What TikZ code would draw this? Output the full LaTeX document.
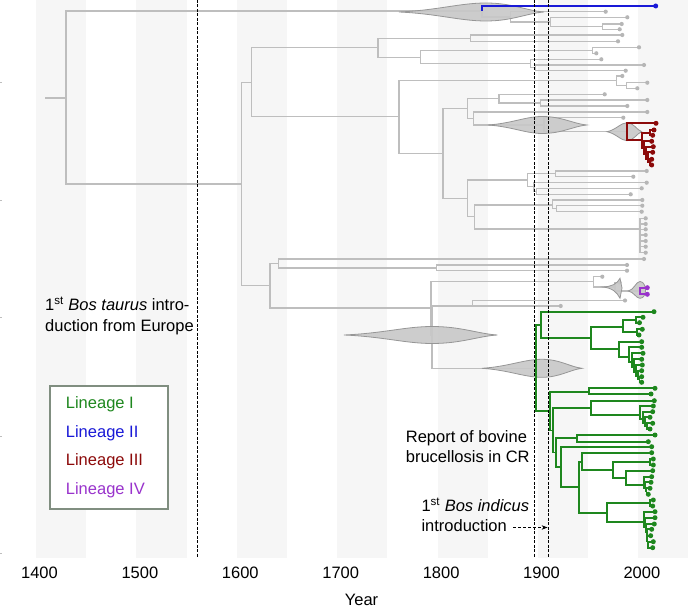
\documentclass[tikz,border=0pt]{standalone}
\usepackage{fontspec}
\setmainfont{Liberation Sans}
\usetikzlibrary{arrows.meta}
\definecolor{treegray}{RGB}{190,190,190}
\definecolor{dotgray}{RGB}{182,182,182}
\definecolor{bandgray}{RGB}{246,246,246}
\definecolor{vfillc}{RGB}{200,200,200}
\definecolor{vlinec}{RGB}{150,150,150}
\definecolor{linI}{RGB}{30,135,30}
\definecolor{linII}{RGB}{25,25,215}
\definecolor{linIII}{RGB}{140,10,10}
\definecolor{linIV}{RGB}{153,51,204}
\definecolor{legbox}{RGB}{128,142,128}
\newcommand{\drawviolin}[5]{%
  \path[violin] (#1,#4)
   .. controls ({#1+0.45*(#2-#1)},{#4-0.2*#5}) and ({#2-0.3*(#2-#1)},{#4-#5}) .. (#2,{#4-#5})
   .. controls ({#2+0.45*(#3-#2)},{#4-#5}) and ({#3-0.3*(#3-#2)},{#4-0.15*#5}) .. (#3,#4)
   .. controls ({#3-0.3*(#3-#2)},{#4+0.15*#5}) and ({#2+0.45*(#3-#2)},{#4+#5}) .. (#2,{#4+#5})
   .. controls ({#2-0.3*(#2-#1)},{#4+#5}) and ({#1+0.45*(#2-#1)},{#4+0.2*#5}) .. (#1,#4) -- cycle;}
\begin{document}
\begin{tikzpicture}[x=1pt,y=-1pt,
  gline/.style={treegray,line width=1.3pt},
  gdot/.style={fill=dotgray},
  cline/.style={line width=1.8pt},
  violin/.style={fill=vfillc,fill opacity=0.9,draw=vlinec,line width=0.8pt},
  refline/.style={black,line width=0.9pt,dash pattern=on 3pt off 1.5pt},
  txt/.style={inner sep=0pt,font=\fontsize{16.5}{20}\selectfont},
  legtxt/.style={txt,anchor=base west}]
\useasboundingbox (0,0) rectangle (688,609);
% background bands
\foreach \k in {0,...,6}
  \fill[bandgray] ({36+100.4*\k},0) rectangle ({86.2+100.4*\k},558);
% tiny axis ticks
\foreach \y in {82.7,200,317.7,436,553.3}
  \draw[treegray,line width=0.8pt] (0,\y) -- (2,\y);
% ---------- gray tree ----------
\draw[gline] (45,98) -- (66,98);
\foreach \a/\b/\c/\d in {
 66/98/482/11, 66/98/241.7/184,
 482/11/510.7/17,
 510.7/17/605.7/11.7, 510.7/17/550.7/22,
 550.7/22/627.3/17.3, 550.7/22/602.3/26.7,
 602.3/26.7/621.7/24, 602.3/26.7/619.7/29.3,
 241.7/184/251.7/82.7, 241.7/184/270/285.7,
 251.7/82.7/378/47.7, 251.7/82.7/399/116.7,
 378/47.7/470.7/38.7, 378/47.7/420.7/57.3,
 470.7/38.7/622.3/35, 470.7/38.7/618/41.3,
 420.7/57.3/592.3/50.7, 420.7/57.3/530.7/63.5,
 592.3/50.7/639/47.3, 592.3/50.7/596.3/53.3,
 530.7/63.5/601.3/59.3, 530.7/63.5/535.7/67.8,
 535.7/67.8/644/65, 535.7/67.8/625.7/70.7,
 399/116.7/616.7/80.7, 399/116.7/443/153.3,
 616.7/80.7/622.3/76, 616.7/80.7/626.7/85.5,
 626.7/85.5/647.3/82.7, 626.7/85.5/637.3/88.3,
 443/153.3/467.3/108.3, 443/153.3/467.3/198.3,
 467.3/108.3/499/98.3, 467.3/108.3/473.3/118.3,
 499/98.3/604.7/94.3, 499/98.3/540.7/103,
 540.7/103/647.3/100, 540.7/103/627.3/106,
 473.3/118.3/647.3/112, 473.3/118.3/544/125,
 544/125/623.3/117.7, 544/125/627.3/131.7,
 467.3/198.3/527.3/180, 467.3/198.3/474.7/216.7,
 527.3/180/555.7/173.3, 527.3/180/534/186.7,
 555.7/173.3/646.7/171, 555.7/173.3/633.3/176.7,
 534/186.7/646.7/182.7, 534/186.7/536.7/191.2,
 536.7/191.2/641.7/188.3, 536.7/191.2/630.7/194.3,
 474.7/216.7/552.3/205, 474.7/216.7/640/229,
 552.3/205/642.3/200, 552.3/205/556.7/208.7,
 556.7/208.7/642.3/205.7, 556.7/208.7/641.7/211.7,
 640/229/645.7/218.3, 640/229/645.7/224, 640/229/645.7/229.3,
 640/229/645.7/235, 640/229/645.7/241, 640/229/645.7/246.7, 640/229/645.7/252.7,
 270/285.7/278.7/263.3, 270/285.7/431/308,
 278.7/263.3/644/259, 278.7/263.3/436.7/267.9,
 436.7/267.9/627/265, 436.7/267.9/627/270.7,
 431/308/593.3/281.7, 431/308/432/335,
 593.3/281.7/602.3/276.7, 593.3/281.7/615/287,
 615/287/619.5/282.5, 615/287/640/291,
 432/335/472.3/306, 432/335/535.7/368.3,
 472.3/306/625/300.5, 472.3/306/560.7/306}
  \draw[gline] (\a,\b) |- (\c,\d);
\foreach \x/\y in {605.7/11.7, 627.3/17.3, 621.7/24, 619.7/29.3,
 622.3/35, 618/41.3, 639/47.3, 596.3/53.3, 601.3/59.3, 644/65, 625.7/70.7,
 622.3/76, 647.3/82.7, 637.3/88.3, 604.7/94.3, 647.3/100, 627.3/106,
 647.3/112, 623.3/117.7, 646.7/171, 633.3/176.7, 646.7/182.7, 641.7/188.3,
 630.7/194.3, 642.3/200, 642.3/205.7, 641.7/211.7,
 645.7/218.3, 645.7/224, 645.7/229.3, 645.7/235, 645.7/241, 645.7/246.7, 645.7/252.7,
 644/259, 627/265, 627/270.7, 602.3/276.7, 619.5/282.5, 625/300.5, 560.7/306}
  \fill[gdot] (\x,\y) circle[radius=2.1pt];
% ---------- violins ----------
\drawviolin{399}{486}{544}{12}{9}
\drawviolin{488}{542}{586.7}{125}{8.5}
\drawviolin{607}{627}{641.7}{131.7}{9}
\drawviolin{344}{432}{497.3}{335}{8.5}
\drawviolin{482}{542}{582}{368.3}{9}
\path[violin] (603,287) .. controls (612,286.5) and (617,284) .. (620,278.3)
  -- (622,288) -- (620,298.3) .. controls (617,292) and (612,288) .. (603,287) -- cycle;
\path[violin] (628.3,291) .. controls (634,290) and (636,281.5) .. (640,281.5)
  .. controls (644,281.5) and (645.5,287) .. (645.5,290)
  .. controls (645.5,294) and (644,298.3) .. (640,298.3)
  .. controls (636,298.3) and (634,292) .. (628.3,291) -- cycle;
% ---------- Lineage II (blue) ----------
\draw[cline,linII] (482,11) |- (655.7,6);
\fill[linII] (655.7,6) circle[radius=2.5pt];
% ---------- Lineage III (red) ----------
\foreach \a/\b/\c/\d in {
 627.3/131.7/656/123.3, 627.3/131.7/641.7/140,
 641.7/140/650/132.7, 641.7/140/644/148,
 650/132.7/654/130, 650/132.7/652.7/135.3,
 644/148/651.7/141.3, 644/148/646.3/154,
 646.3/154/653.3/146.7, 646.3/154/648.3/159,
 648.3/159/652.7/152.3, 648.3/159/650/162,
 650/162/651.7/159.3, 650/162/651.7/165}
  \draw[cline,linIII] (\a,\b) |- (\c,\d);
\foreach \x/\y in {656/123.3, 654/130, 652.7/135.3, 651.7/141.3, 653.3/146.7,
 652.7/152.3, 651.7/159.3, 651.7/165}
  \fill[linIII] (\x,\y) circle[radius=2.5pt];
% ---------- Lineage IV (purple) ----------
\foreach \a/\b/\c/\d in {640/291/647.3/287.7, 640/291/647.3/294.3}
  \draw[cline,linIV] (\a,\b) |- (\c,\d);
\foreach \x/\y in {647.3/287.7, 647.3/294.3}
  \fill[linIV] (\x,\y) circle[radius=2.5pt];
% ---------- Lineage I (green) ----------
\foreach \a/\b/\c/\d in {
 535.7/368.3/540.7/325, 535.7/368.3/550/411,
 540.7/325/654/311.7, 540.7/325/590.7/338.3,
 590.7/338.3/623.3/327.3, 590.7/338.3/619/349.3,
 623.3/327.3/636/320, 623.3/327.3/637/332.3,
 636/320/643/317.3, 636/320/639.5/322.7,
 637/332.3/642.3/329.3, 637/332.3/639/335,
 619/349.3/641.7/341.7, 619/349.3/629/356.7,
 629/356.7/641.7/347.3, 629/356.7/632/362,
 632/362/643/353.3, 632/362/634/367,
 634/367/641.7/359.3, 634/367/636/372,
 636/372/642.3/365, 636/372/638/376,
 638/376/641.7/370.7, 638/376/639.5/379.5,
 639.5/379.5/641.7/376.7, 639.5/379.5/641.7/382.3,
 550/411/589.3/391.7, 550/411/553.3/430.4,
 589.3/391.7/655/388.3, 589.3/391.7/651/394,
 553.3/430.4/591/408.3, 553.3/430.4/556/452.5,
 591/408.3/654.3/400.7, 591/408.3/640/415,
 640/415/653.3/406, 640/415/643/419,
 643/419/652.7/411.7, 643/419/645/423,
 645/423/650/417.3, 645/423/647/426,
 647/426/652.7/423.3, 647/426/650/429,
 556/452.5/577.3/438.3, 556/452.5/560.7/466.7,
 577.3/438.3/655/435, 577.3/438.3/648.3/441.7,
 560.7/466.7/651.7/446.7, 560.7/466.7/579.3/486.7,
 579.3/486.7/581.7/461.7, 579.3/486.7/607.3/512.7,
 581.7/461.7/651.7/452.7, 581.7/461.7/613.3/470,
 613.3/470/650/462, 613.3/470/626/478.3,
 650/462/653.3/459, 650/462/653.3/465,
 626/478.3/652.7/470.7, 626/478.3/644/485,
 644/485/651.7/476.7, 644/485/645.5/488,
 645.5/488/651/482.3, 645.5/488/646.5/491,
 646.5/491/650/488.3, 646.5/491/648.3/494.3,
 607.3/512.7/650/503, 607.3/512.7/644/521.7,
 650/503/653.3/500, 650/503/652.7/506,
 644/521.7/655/511.7, 644/521.7/645.5/527,
 645.5/527/655/517.7, 645.5/527/646.5/532,
 646.5/532/654.3/524, 646.5/532/647/537,
 647/537/651.7/529.3, 647/537/647.5/541,
 647.5/541/650.7/535.7, 647.5/541/648/544.7,
 648/544.7/653.3/541.7, 648/544.7/652.7/547.7}
  \draw[cline,linI] (\a,\b) |- (\c,\d);
\foreach \x/\y in {654/311.7, 643/317.3, 639.5/322.7, 642.3/329.3, 639/335,
 641.7/341.7, 641.7/347.3, 643/353.3, 641.7/359.3, 642.3/365, 641.7/370.7,
 641.7/376.7, 641.7/382.3, 655/388.3, 651/394, 654.3/400.7, 653.3/406,
 652.7/411.7, 650/417.3, 652.7/423.3, 650/429, 655/435, 648.3/441.7,
 651.7/446.7, 651.7/452.7, 653.3/459, 653.3/465, 652.7/470.7, 651.7/476.7,
 651/482.3, 650/488.3, 648.3/494.3, 653.3/500, 652.7/506, 655/511.7,
 655/517.7, 654.3/524, 651.7/529.3, 650.7/535.7, 653.3/541.7, 652.7/547.7}
  \fill[linI] (\x,\y) circle[radius=2.5pt];
% ---------- reference dates ----------
\foreach \x in {197,534.3,548}
  \draw[refline] (\x,0) -- (\x,558);
% ---------- annotations ----------
\node[legtxt] (taurusA) at (45,311) {1\textsuperscript{st} \textit{Bos taurus} intro-};
\node[legtxt] (taurusB) at (45,331.5) {duction from Europe};
\node[legtxt] (reportA) at (405.7,442.7) {Report of bovine};
\node[legtxt] (reportB) at (405.7,462.7) {brucellosis in CR};
\node[legtxt] (indicusA) at (421.3,511.7) {1\textsuperscript{st} \textit{Bos indicus}};
\node[legtxt] (indicusB) at (421.3,531.7) {introduction};
\coordinate (arrS) at (513.3,527.5);
\coordinate (arrE) at (547.6,527.5);
\draw[black,line width=0.8pt,dash pattern=on 3pt off 2pt,-{Stealth[length=6pt,width=4.5pt]}] (arrS) -- (arrE);
% ---------- legend ----------
\draw[legbox,line width=2pt,fill=white] (50,386) rectangle (168.3,509.3);
\node[legtxt,text=linI] (legI) at (65.7,409) {Lineage I};
\node[legtxt,text=linII] (legII) at (65.7,437.3) {Lineage II};
\node[legtxt,text=linIII] (legIII) at (65.7,465.7) {Lineage III};
\node[legtxt,text=linIV] (legIV) at (65.7,494) {Lineage IV};
% ---------- axis ----------
\foreach \k/\yr in {0/1400,1/1500,2/1600,3/1700,4/1800,5/1900,6/2000}
  \node[txt,anchor=base] (tick\yr) at ({39.5+100.4*\k},578.3) {\yr};
\node[txt,anchor=base] (yearlab) at (361.5,605) {Year};
\end{tikzpicture}
\end{document}
